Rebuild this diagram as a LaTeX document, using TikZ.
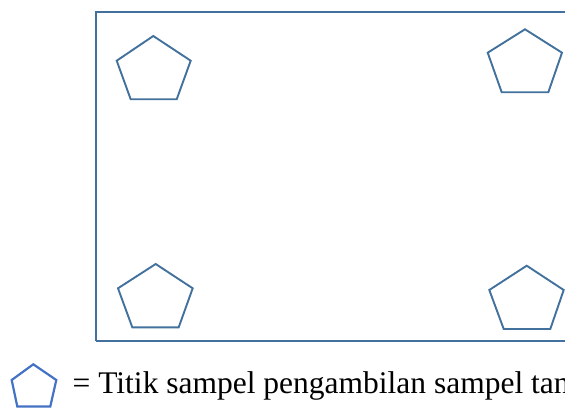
\documentclass[tikz,border=0pt]{standalone}
\usepackage{fontspec}
\setmainfont{Liberation Serif}
\definecolor{steel}{HTML}{41719C}
\definecolor{legblue}{HTML}{4472C4}
\tikzset{
  shapeline/.style={draw=steel, line width=1.9pt, line join=miter},
  legline/.style={draw=legblue, line width=2.2pt, line join=miter},
}
\begin{document}
\begin{tikzpicture}[x=1pt,y=-1pt]
\useasboundingbox (0,0) rectangle (565,409);
\clip (0,0) rectangle (565,409);
% field rectangle
\draw[shapeline] (95.7,341.3) -- (95.7,12) -- (580,12);
\draw[shapeline] (95.7,341.3) -- (580,341.3);
% pentagons
\draw[shapeline] (153.3,36) -- (190.7,60.7) -- (176.7,99.3) -- (130.7,99.3) -- (116.7,60.7) -- cycle;
\draw[shapeline] (525,29.3) -- (562,52.7) -- (548.3,92.3) -- (501.7,92.3) -- (487.7,52.7) -- cycle;
\draw[shapeline] (155.7,264) -- (192.7,288.3) -- (178.7,327.3) -- (132.3,327.3) -- (118,288.3) -- cycle;
\draw[shapeline] (526.7,265.7) -- (563.7,290) -- (550.3,329) -- (503.7,329) -- (489.3,290) -- cycle;
% legend
\draw[legline] (33.3,364.3) -- (56.3,380) -- (50.3,406.5) -- (17.3,406.5) -- (11.7,380) -- cycle;
\node[anchor=base west, inner sep=0pt, font=\fontsize{31.5}{36}\selectfont] (legtext) at (72.5,393) {= Titik sampel pengambilan sampel tan};
\end{tikzpicture}
\end{document}
